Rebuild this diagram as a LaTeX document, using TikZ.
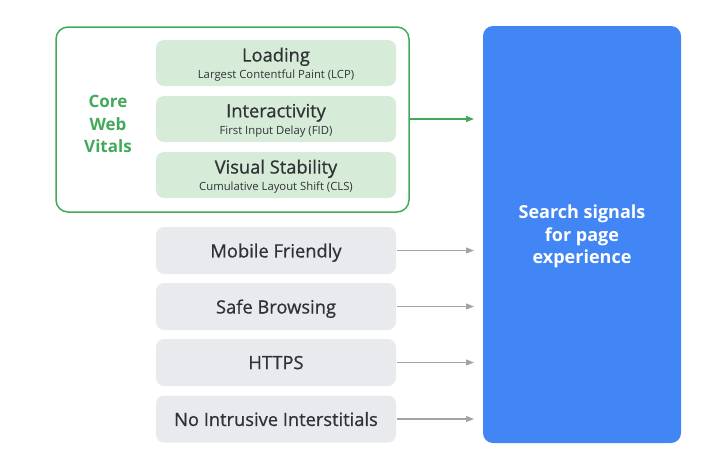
\documentclass[tikz,border=0pt]{standalone}
\usepackage{fontspec}
\setmainfont{Open Sans}
\newfontfamily\medfont[FakeBold=0.8]{Open Sans}
\usetikzlibrary{arrows.meta}
\definecolor{gGreen}{HTML}{43A95A}
\definecolor{gGreenFill}{HTML}{D6ECD9}
\definecolor{gGrey}{HTML}{E8EAED}
\definecolor{gArrow}{HTML}{A0A4A8}
\definecolor{gBlue}{HTML}{4285F4}
\definecolor{gText}{HTML}{303336}
\newcommand{\ttlf}{\medfont\fontsize{18.3}{18}\selectfont}
\newcommand{\subf}{\fontsize{11.3}{12}\selectfont}
\begin{document}
\begin{tikzpicture}[x=1pt,y=-1pt,
  greenbox/.style={draw=none,fill=gGreenFill,rounded corners=8pt,minimum width=240pt,minimum height=46pt,inner sep=0pt},
  boxtext/.style={align=center,text=gText,inner sep=0pt},
  greybox/.style={draw=none,fill=gGrey,rounded corners=8pt,minimum width=240pt,minimum height=47pt,inner sep=0pt,text=gText,text depth=0pt,font=\medfont\fontsize{18.3}{18}\selectfont},
  garrow/.style={draw=gArrow,line width=1.3pt,-{Triangle[length=8pt,width=6pt]}},
  grarrow/.style={draw=gGreen,line width=1.5pt,-{Triangle[length=8pt,width=6pt]}}
]
\useasboundingbox (0,0) rectangle (725,471);
\node[draw=gGreen,line width=1.5pt,rounded corners=12pt,minimum width=353pt,minimum height=185pt,inner sep=0pt] (cwv) at (232.5,119.5) {};
\node[text=gGreen,align=center,font=\fontsize{17}{22.5}\selectfont\bfseries] (cwvlabel) at (108,124) {Core\\Web\\Vitals};
\node[greenbox] (load) at (276,63) {};
\node[boxtext] (loadtxt) at ([yshift=-1.5pt]load.center) {{\ttlf Loading}\\[3pt]{\subf Largest Contentful Paint (LCP)}};
\node[greenbox] (inter) at (276,119) {};
\node[boxtext] (intertxt) at ([yshift=-1.5pt]inter.center) {{\ttlf Interactivity}\\[3pt]{\subf First Input Delay (FID)}};
\node[greenbox] (vis) at (276,175) {};
\node[boxtext] (vistxt) at ([yshift=-1.5pt]vis.center) {{\ttlf Visual Stability}\\[3pt]{\subf Cumulative Layout Shift (CLS)}};
\node[greybox] (mob) at (276,250.5) {Mobile Friendly};
\node[greybox] (safe) at (276,306.5) {Safe Browsing};
\node[greybox] (https) at (276,362.5) {HTTPS};
\node[greybox] (nii) at (276,419) {No Intrusive Interstitials};
\node[fill=gBlue,rounded corners=10pt,minimum width=198pt,minimum height=417pt,inner sep=0pt] (blue) at (582,234.5) {};
\node[text=white,align=center,font=\fontsize{18}{22.5}\selectfont\bfseries] (bluetxt) at ([yshift=-2pt]blue.center) {Search signals\\for page\\experience};
\coordinate (gend) at (474,119);
\draw[grarrow] (cwv.east |- gend) -- (gend);
\foreach \n in {mob,safe,https,nii}{
  \draw[garrow] ([xshift=1pt]\n.east) -- (\n.east -| gend);
}
\end{tikzpicture}
\end{document}
